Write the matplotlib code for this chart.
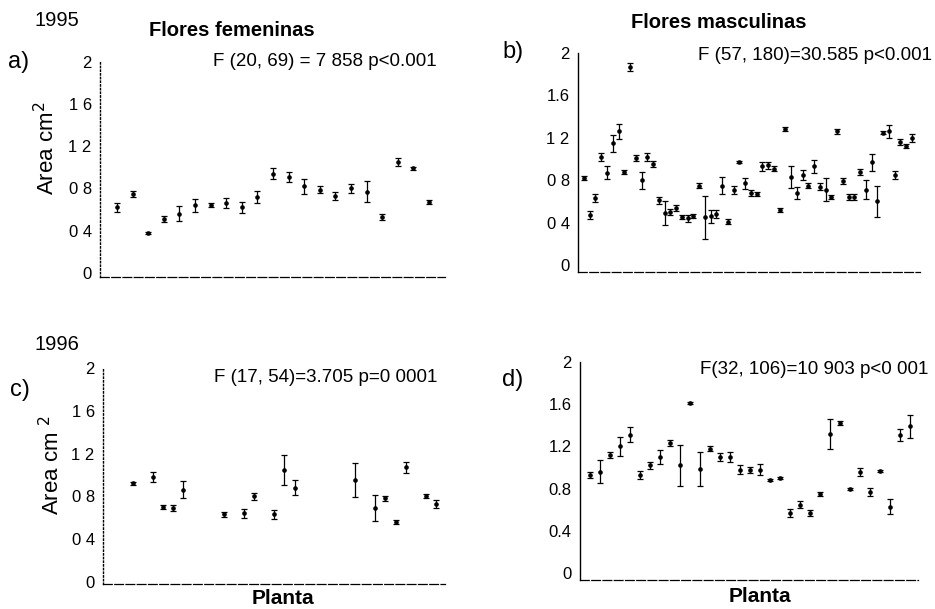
import numpy as np
import matplotlib.pyplot as plt

plt.rcParams['font.family'] = ['Liberation Sans', 'DejaVu Sans']

# 1995, flores femeninas (21 plantas)
fem95_mean = [0.62, 0.75, 0.38, 0.51, 0.56, 0.64, 0.64, 0.66, 0.62, 0.72, 0.94,
              0.91, 0.82, 0.79, 0.73, 0.80, 0.77, 0.53, 1.05, 0.99, 0.67]
fem95_err = [0.04, 0.03, 0.01, 0.03, 0.07, 0.06, 0.02, 0.05, 0.05, 0.06, 0.05,
             0.05, 0.07, 0.03, 0.04, 0.04, 0.10, 0.03, 0.04, 0.01, 0.02]

# 1995, flores masculinas (58 plantas)
mas95_mean = [0.82, 0.47, 0.63, 1.02, 0.87, 1.15, 1.26, 0.88, 1.87, 1.01,
              0.80, 1.02, 0.95, 0.61, 0.49, 0.50, 0.54, 0.45, 0.44, 0.46,
              0.75, 0.45, 0.46, 0.48, 0.75, 0.41, 0.71, 0.97, 0.77, 0.68,
              0.67, 0.93, 0.94, 0.91, 0.52, 1.28, 0.83, 0.68, 0.85, 0.75,
              0.93, 0.74, 0.71, 0.64, 1.26, 0.79, 0.64, 0.64, 0.88, 0.71,
              0.97, 0.60, 1.25, 1.26, 0.85, 1.16, 1.12, 1.20]
mas95_err = [0.02, 0.04, 0.04, 0.04, 0.06, 0.08, 0.07, 0.02, 0.04, 0.03,
             0.08, 0.04, 0.03, 0.03, 0.11, 0.03, 0.03, 0.02, 0.03, 0.02,
             0.02, 0.20, 0.06, 0.04, 0.08, 0.02, 0.04, 0.01, 0.05, 0.03,
             0.02, 0.04, 0.03, 0.02, 0.02, 0.02, 0.10, 0.06, 0.05, 0.02,
             0.06, 0.03, 0.11, 0.02, 0.02, 0.03, 0.03, 0.03, 0.03, 0.09,
             0.08, 0.15, 0.01, 0.06, 0.04, 0.03, 0.02, 0.04]

# 1996, flores femeninas (18 plantas, numeradas)
fem96_planta = [0, 2, 3, 4, 5, 9, 11, 12, 14, 15, 16, 22, 24, 25, 26, 27, 29, 30]
fem96_mean = [0.92, 0.98, 0.70, 0.69, 0.86, 0.63, 0.64, 0.80, 0.63, 1.05,
              0.88, 0.95, 0.69, 0.78, 0.56, 1.07, 0.80, 0.73]
fem96_err = [0.01, 0.05, 0.02, 0.03, 0.08, 0.02, 0.04, 0.03, 0.04, 0.14,
             0.07, 0.16, 0.12, 0.02, 0.02, 0.05, 0.02, 0.04]

# 1996, flores masculinas (33 plantas)
mas96_mean = [0.93, 0.96, 1.12, 1.20, 1.31, 0.93, 1.02, 1.10, 1.23, 1.02,
              1.61, 0.99, 1.18, 1.10, 1.10, 0.98, 0.98, 0.98, 0.88, 0.90,
              0.57, 0.65, 0.57, 0.75, 1.32, 1.42, 0.80, 0.96, 0.77, 0.97,
              0.63, 1.31, 1.39]
mas96_err = [0.03, 0.11, 0.03, 0.09, 0.07, 0.04, 0.03, 0.07, 0.03, 0.19,
             0.01, 0.16, 0.02, 0.04, 0.05, 0.04, 0.03, 0.05, 0.01, 0.01,
             0.04, 0.03, 0.03, 0.02, 0.14, 0.02, 0.01, 0.04, 0.04, 0.01,
             0.07, 0.06, 0.11]

yticks = [0, 0.4, 0.8, 1.2, 1.6, 2]
labels_a = ['0', '0 4', '0 8', '1 2', '1 6', '2']
labels_b = ['0', '0 4', '0 8', '1 2', '1.6', '2']
labels_d = ['0', '0.4', '0.8', '1.2', '1.6', '2']

W, H = 935, 609
fig = plt.figure(figsize=(W / 100, H / 100), dpi=100)


def panel(left, right, top, bottom, x, mean, err, xlim, ylim, ticklabels, left_style):
    ax = fig.add_axes([left / W, 1 - bottom / H, (right - left) / W, (bottom - top) / H])
    ax.errorbar(x, mean, yerr=err, fmt='o', color='black', ms=2.3,
                elinewidth=0.9, capsize=2.5, capthick=0.9)
    ax.set_xlim(*xlim)
    ax.set_ylim(*ylim)
    ax.set_xticks([])
    ax.set_yticks(yticks)
    ax.set_yticklabels(ticklabels, fontsize=12)
    ax.tick_params(axis='y', length=0, pad=6)
    ax.spines['top'].set_visible(False)
    ax.spines['right'].set_visible(False)
    ax.spines['left'].set_linestyle(left_style)
    ax.spines['left'].set_linewidth(1.0)
    ax.spines['bottom'].set_linestyle((0, (7, 2)))
    ax.spines['bottom'].set_linewidth(0.9)
    return ax


panel(100, 445, 62, 277, np.arange(len(fem95_mean)), fem95_mean, fem95_err,
      (-1.09, 21.03), (-0.04, 2.0), labels_a, ':')
panel(578, 920, 53, 272, np.arange(len(mas95_mean)), mas95_mean, mas95_err,
      (-1.04, 58.4), (-0.066, 2.0), labels_b, '-')
panel(103, 445, 368, 584, fem96_planta, fem96_mean, fem96_err,
      (-2.97, 30.9), (-0.02, 2.0), labels_a, ':')
panel(580, 918, 362, 580, np.arange(len(mas96_mean)), mas96_mean, mas96_err,
      (-1.0, 32.8), (-0.065, 2.0), labels_d, '-')


def label(x, y, s, **kw):
    fig.text(x / W, 1 - y / H, s, va='center', **kw)


label(35, 20, '1995', fontsize=14.5)
label(35, 345, '1996', fontsize=14.5)
label(8, 62, 'a)', fontsize=17)
label(502, 52, 'b)', fontsize=17)
label(10, 390, 'c)', fontsize=17)
label(502, 380, 'd)', fontsize=17)

label(232, 30, 'Flores femeninas', fontsize=14.5, fontweight='bold', ha='center')
label(719, 22, 'Flores masculinas', fontsize=14.5, fontweight='bold', ha='center')

label(437, 62, 'F (20, 69) = 7 858 p<0.001', fontsize=13.5, ha='right')
label(932, 55, 'F (57, 180)=30.585 p<0.001', fontsize=13.5, ha='right')
label(437, 377, 'F (17, 54)=3.705 p=0 0001', fontsize=13.5, ha='right')
label(928, 370, 'F(32, 106)=10 903 p<0 001', fontsize=13.5, ha='right')

label(47, 148, 'Area cm$^2$', fontsize=16, rotation=90, ha='center')
label(52, 465, 'Area cm $^2$', fontsize=16, rotation=90, ha='center')

label(283, 598, 'Planta', fontsize=15, fontweight='bold', ha='center')
label(760, 596, 'Planta', fontsize=15, fontweight='bold', ha='center')

fig.savefig('out.png', dpi=100)
